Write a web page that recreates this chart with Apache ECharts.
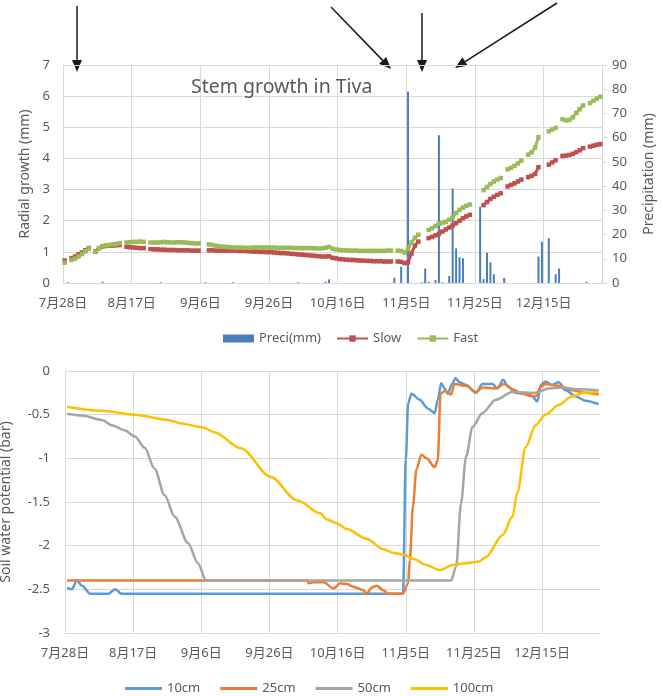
<!DOCTYPE html>
<html>
<head>
<meta charset="utf-8">
<script src="https://cdn.jsdelivr.net/npm/echarts@6.0.0/dist/echarts.min.js"></script>
<style>
  html, body { margin: 0; padding: 0; background: #fff; }
  #main { width: 663px; height: 696px; }
</style>
</head>
<body>
<div id="main"></div>
<script>
// days counted from 7月28日
const tickDays = [0, 20, 40, 60, 80, 100, 120, 140]

// daily radial growth (mm), '-' = no record
const slow = [
  0.72, '-', 0.80, 0.85, 0.92, 0.98, 1.05, 1.12, '-',
  1.02, 1.12, 1.17, 1.19, 1.20, 1.20, 1.21, 1.22, '-',
  1.16, 1.15, 1.14, 1.13, 1.12, 1.12, '-',
  1.09, 1.08, 1.08, 1.07, 1.07, 1.06, 1.06, 1.06, 1.05, 1.05, 1.05, 1.05, 1.04, 1.04, 1.04, '-', '-',
  1.05, 1.05, 1.04, 1.04, 1.04, 1.04, 1.04, 1.04, 1.04, 1.03, 1.03, 1.02, 1.02, 1.01, 1.01, 1.00, 1.00, 0.99,
  0.99, 0.98, 0.97, 0.96, 0.96, 0.95, 0.94, 0.93, 0.92, 0.91, 0.90, 0.89, 0.88, 0.87, 0.86, 0.85, 0.85, 0.86,
  0.81, 0.79, 0.77, 0.76, 0.75, 0.74, 0.74, 0.73, 0.72, 0.72, 0.71, 0.71, 0.70, 0.70, 0.70, 0.69, 0.69, 0.69, '-',
  0.69, 0.68, 0.64, 0.66, 0.95, 1.20, 1.33, '-', '-',
  1.44, 1.48, 1.53, 1.58, 1.65, 1.72, 1.78, 1.85, 1.92, 2.00, 2.08, 2.14, 2.19, '-', '-', '-',
  2.50, 2.60, 2.70, 2.77, 2.83, 2.88, '-',
  3.10, 3.15, 3.20, 3.26, 3.32, '-',
  3.40, 3.44, 3.50, 3.72, '-', '-',
  3.80, 3.87, 3.94, '-',
  4.08, 4.09, 4.11, 4.15, 4.20, 4.26, 4.33, '-',
  4.38, 4.41, 4.44, 4.46
]
const fast = [
  0.65, '-', 0.74, 0.78, 0.85, 0.93, 1.02, 1.10, '-',
  1.00, 1.12, 1.18, 1.21, 1.22, 1.24, 1.25, 1.28, '-',
  1.30, 1.31, 1.32, 1.32, 1.33, 1.32, '-',
  1.30, 1.30, 1.30, 1.31, 1.32, 1.31, 1.30, 1.30, 1.31, 1.31, 1.30, 1.29, 1.28, 1.27, 1.27, '-', '-',
  1.24, 1.22, 1.20, 1.18, 1.17, 1.16, 1.15, 1.14, 1.14, 1.14, 1.13, 1.13, 1.13, 1.14, 1.14, 1.14, 1.14, 1.14,
  1.14, 1.14, 1.13, 1.13, 1.13, 1.13, 1.13, 1.12, 1.12, 1.12, 1.12, 1.12, 1.12, 1.11, 1.11, 1.11, 1.13, 1.16,
  1.10, 1.08, 1.06, 1.05, 1.05, 1.04, 1.04, 1.04, 1.03, 1.03, 1.03, 1.03, 1.03, 1.03, 1.03, 1.03, 1.04, 1.04, '-',
  1.04, 1.03, 0.98, 1.10, 1.30, 1.45, 1.55, '-', '-',
  1.70, 1.76, 1.83, 1.90, 1.93, 1.97, 2.03, 2.10, 2.25, 2.35, 2.42, 2.48, 2.52, '-', '-', '-',
  2.98, 3.08, 3.18, 3.26, 3.32, 3.37, '-',
  3.65, 3.70, 3.76, 3.84, 3.93, '-',
  4.12, 4.20, 4.35, 4.68, '-', '-',
  4.87, 4.93, 4.98, '-',
  5.26, 5.22, 5.24, 5.32, 5.46, 5.58, 5.70, '-',
  5.78, 5.85, 5.92, 5.98
]

// precipitation events
const preciDay = [1, 11, 28, 41, 49, 68, 76, 77, 96, 98, 100, 104, 105, 106, 108, 109, 110, 112, 113, 114, 115, 116,
  121, 122, 123, 124, 125, 128, 138, 139, 141, 143, 144, 152]
const preciMm = [0.3, 0.5, 0.3, 0.3, 0.3, 0.3, 0.5, 1.5, 2.2, 6.7, 79, 0.3, 6, 0.5, 1.2, 61, 0.3, 2.9, 39, 14.3, 10.6, 10.2,
  31.5, 1.6, 12.5, 8.5, 3.6, 2.1, 10.9, 17, 18.5, 3.6, 6, 0.5]

// soil water potential (bar), [day, value]
const swp10 = [[0.6, -2.48], [2.0, -2.50], [3.5, -2.40], [5.0, -2.46], [7.4, -2.55], [12.7, -2.55], [14.7, -2.50], [16.6, -2.55],
  [99.2, -2.55], [100.0, -1.02], [100.7, -0.37], [101.7, -0.26], [104.1, -0.33], [106.5, -0.43], [108.5, -0.48], [109.4, -0.33],
  [110.4, -0.14], [111.4, -0.20], [112.3, -0.26], [113.6, -0.15], [114.6, -0.08], [115.7, -0.13], [117.7, -0.16], [120.6, -0.25],
  [122.5, -0.15], [125.5, -0.15], [126.9, -0.20], [128.6, -0.10], [129.8, -0.17], [132.3, -0.25], [134.2, -0.26], [137.1, -0.29],
  [138.6, -0.35], [139.6, -0.16], [141.0, -0.12], [142.9, -0.16], [144.9, -0.13], [146.9, -0.22], [149.8, -0.29], [152.7, -0.34],
  [156.6, -0.38]]
const swp25 = [[0.6, -2.40], [71.0, -2.40], [71.5, -2.43], [73.0, -2.42], [75.9, -2.42], [78.8, -2.49], [80.8, -2.43], [82.7, -2.44],
  [84.6, -2.47], [87.6, -2.51], [88.5, -2.55], [90.0, -2.48], [91.5, -2.46], [93.4, -2.51], [94.8, -2.55], [99.2, -2.55],
  [100.7, -2.43], [101.2, -2.16], [102.1, -1.55], [103.1, -1.13], [104.6, -0.96], [106.1, -1.00], [108.5, -1.10], [109.4, -1.02],
  [110.2, -0.26], [111.4, -0.23], [113.3, -0.27], [114.3, -0.15], [117.7, -0.17], [120.6, -0.24], [122.5, -0.19], [126.4, -0.20],
  [128.9, -0.15], [131.3, -0.21], [134.2, -0.26], [138.1, -0.29], [139.6, -0.18], [141.0, -0.15], [144.9, -0.17], [148.8, -0.22],
  [152.7, -0.25], [156.6, -0.27]]
const swp50 = [[0.6, -0.49], [5.0, -0.51], [10.8, -0.56], [13.7, -0.62], [17.6, -0.68], [20.5, -0.75], [23.4, -0.88], [26.3, -1.12],
  [29.2, -1.42], [32.2, -1.67], [36.1, -1.97], [39.0, -2.20], [41.4, -2.40], [113.3, -2.40], [114.8, -2.24],
  [116.2, -1.52], [117.7, -0.98], [119.6, -0.64], [122.5, -0.48], [126.4, -0.33], [131.3, -0.24], [138.1, -0.25], [142.0, -0.20],
  [145.9, -0.19], [150.7, -0.21], [156.6, -0.22]]
const swp100 = [[0.6, -0.41], [10.8, -0.455], [20.5, -0.50], [30.2, -0.56], [34.1, -0.60], [40.4, -0.645], [43.8, -0.70], [51.6, -0.885],
  [60.3, -1.21], [68.1, -1.48], [74.9, -1.63], [76.9, -1.70], [79.8, -1.745], [82.7, -1.81], [88.5, -1.92], [93.4, -2.04],
  [96.3, -2.08], [99.2, -2.10], [102.1, -2.15], [106.0, -2.22], [109.9, -2.28], [113.8, -2.22], [117.7, -2.20], [121.6, -2.18],
  [123.5, -2.13], [128.4, -1.88], [131.3, -1.67], [132.7, -1.40], [135.2, -0.87], [138.1, -0.62], [141.0, -0.50], [144.9, -0.39],
  [148.8, -0.29], [152.7, -0.245], [156.6, -0.24]]

const textColor = '#595959'
const gridColor = '#d9d9d9'
const font = "'Noto Sans', 'Noto Sans CJK SC', sans-serif"
const startDate = new Date(2019, 6, 28)

function dayLabel (v) {
  let d = new Date(startDate.getTime() + Math.round(v) * 86400000)
  return (d.getMonth() + 1) + '月' + d.getDate() + '日'
}

// vertical grid lines: the one at the right end is not drawn
const vLineColors = tickDays.map(() => gridColor).concat(['rgba(0,0,0,0)'])

function dateAxis (gridIndex) {
  return {
    type: 'value',
    gridIndex: gridIndex,
    min: 0,
    max: 157,
    interval: 20,
    axisLine: { onZero: false, lineStyle: { color: gridColor, width: 1 } },
    axisTick: { show: false },
    splitLine: { show: true, lineStyle: { color: vLineColors, width: 1 } },
    axisLabel: {
      formatter: dayLabel,
      showMaxLabel: false,
      hideOverlap: false,
      color: textColor,
      fontSize: 13,
      fontFamily: font,
      margin: 14
    }
  }
}

// annotation arrows above the top chart
function arrow (x1, y1, x2, y2) {
  let ang = Math.atan2(y2 - y1, x2 - x1)
  let len = 12
  let half = 5
  let bx = x2 - len * Math.cos(ang)
  let by = y2 - len * Math.sin(ang)
  let px = -Math.sin(ang) * half
  let py = Math.cos(ang) * half
  return [
    { type: 'line', shape: { x1: x1, y1: y1, x2: bx, y2: by }, style: { stroke: '#1a1a1a', lineWidth: 1.5 } },
    { type: 'polygon', shape: { points: [[x2, y2], [bx + px, by + py], [bx - px, by - py]] }, style: { fill: '#1a1a1a' } }
  ]
}

const arrows = [].concat(
  arrow(77, 6, 77, 72),
  arrow(331, 7, 391, 69),
  arrow(422, 13, 422, 72),
  arrow(557, 3, 455, 68)
)

let myChart = echarts.init(document.getElementById('main'))
let options = {
  animation: false,
  textStyle: { fontFamily: font },
  title: {
    text: 'Stem growth in Tiva',
    left: 186,
    top: 73,
    textStyle: { fontSize: 19.5, fontWeight: 'normal', color: textColor, fontFamily: font }
  },
  graphic: arrows,
  legend: [
    {
      left: 218,
      top: 327,
      itemWidth: 31,
      itemHeight: 8,
      itemGap: 15,
      textStyle: { color: textColor, fontSize: 13, fontFamily: font },
      data: [{ name: 'Preci(mm)', icon: 'rect' }, 'Slow', 'Fast']
    },
    {
      left: 120,
      top: 677,
      itemWidth: 37,
      itemHeight: 3,
      itemGap: 20,
      icon: 'rect',
      textStyle: { color: textColor, fontSize: 13, fontFamily: font },
      data: ['10cm', '25cm', '50cm', '100cm']
    }
  ],
  grid: [
    { left: 63, right: 61, top: 65, height: 218, outerBoundsMode: 'none' },
    { left: 65, right: 63, top: 371, height: 262, outerBoundsMode: 'none' }
  ],
  xAxis: [dateAxis(0), dateAxis(1)],
  yAxis: [
    {
      gridIndex: 0,
      type: 'value',
      min: 0,
      max: 7,
      interval: 1,
      name: 'Radial growth (mm)',
      nameLocation: 'middle',
      nameGap: 24,
      nameTextStyle: { color: textColor, fontSize: 14, fontFamily: font },
      axisLine: { show: false },
      axisTick: { show: false },
      axisLabel: { color: textColor, fontSize: 13, fontFamily: font, margin: 13 },
      splitLine: { lineStyle: { color: gridColor } }
    },
    {
      gridIndex: 0,
      type: 'value',
      position: 'right',
      min: 0,
      max: 90,
      interval: 10,
      name: 'Precipitation (mm)',
      nameLocation: 'middle',
      nameGap: 40,
      nameRotate: 90,
      nameTextStyle: { color: textColor, fontSize: 14, fontFamily: font },
      axisLine: { show: true, lineStyle: { color: gridColor } },
      axisTick: { show: true, length: 5, lineStyle: { color: gridColor } },
      axisLabel: { color: textColor, fontSize: 13, fontFamily: font, margin: 10 },
      splitLine: { show: false }
    },
    {
      gridIndex: 1,
      type: 'value',
      min: -3,
      max: 0,
      interval: 0.5,
      name: 'Soil water potential (bar)',
      nameLocation: 'middle',
      nameGap: 52,
      nameTextStyle: { color: textColor, fontSize: 14, fontFamily: font },
      axisLine: { show: false },
      axisTick: { show: false },
      axisLabel: { color: textColor, fontSize: 13, fontFamily: font, margin: 15 },
      splitLine: { lineStyle: { color: gridColor } }
    }
  ],
  series: [
    {
      name: 'Preci(mm)',
      type: 'bar',
      xAxisIndex: 0,
      yAxisIndex: 1,
      barWidth: 2,
      itemStyle: { color: '#4a7ebb' },
      data: preciDay.map((d, i) => [d + 0.5, preciMm[i]])
    },
    {
      name: 'Slow',
      type: 'line',
      xAxisIndex: 0,
      yAxisIndex: 0,
      symbol: 'rect',
      symbolSize: 4.5,
      itemStyle: { color: '#c0504d' },
      lineStyle: { color: '#c0504d', width: 3 },
      data: slow.map((v, i) => [i + 0.5, v])
    },
    {
      name: 'Fast',
      type: 'line',
      xAxisIndex: 0,
      yAxisIndex: 0,
      symbol: 'rect',
      symbolSize: 4.5,
      itemStyle: { color: '#9bbb59' },
      lineStyle: { color: '#9bbb59', width: 3 },
      data: fast.map((v, i) => [i + 0.5, v])
    },
    {
      name: '10cm',
      type: 'line',
      xAxisIndex: 1,
      yAxisIndex: 2,
      symbol: 'none',
      smooth: 0.3,
      smoothMonotone: 'x',
      itemStyle: { color: '#5b9bd5' },
      lineStyle: { color: '#5b9bd5', width: 2.5 },
      data: swp10
    },
    {
      name: '25cm',
      type: 'line',
      xAxisIndex: 1,
      yAxisIndex: 2,
      symbol: 'none',
      smooth: 0.3,
      smoothMonotone: 'x',
      itemStyle: { color: '#ed7d31' },
      lineStyle: { color: '#ed7d31', width: 2.5 },
      data: swp25
    },
    {
      name: '50cm',
      type: 'line',
      xAxisIndex: 1,
      yAxisIndex: 2,
      symbol: 'none',
      smooth: 0.3,
      smoothMonotone: 'x',
      itemStyle: { color: '#a5a5a5' },
      lineStyle: { color: '#a5a5a5', width: 2.5 },
      data: swp50
    },
    {
      name: '100cm',
      type: 'line',
      xAxisIndex: 1,
      yAxisIndex: 2,
      symbol: 'none',
      smooth: 0.3,
      smoothMonotone: 'x',
      itemStyle: { color: '#ffc000' },
      lineStyle: { color: '#ffc000', width: 2.5 },
      data: swp100
    }
  ]
}
myChart.setOption(options)
</script>
</body>
</html>
